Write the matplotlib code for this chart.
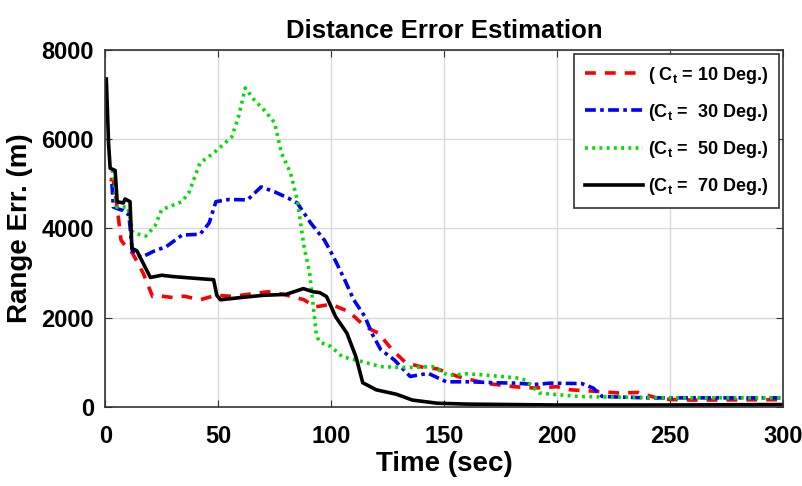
import matplotlib
matplotlib.use("Agg")
import matplotlib.pyplot as plt

# Distance error curves
t_10 = [2, 3.6, 5.3, 7, 9, 12, 16.8, 21, 25, 30, 35, 42, 49, 55, 60, 72, 79, 88, 93,
        100, 108, 115, 121, 127, 133, 141, 147, 156, 168, 181, 190, 200, 206, 216,
        227, 236, 246, 260, 300]
err_10 = [5100, 5090, 4480, 3740, 3600, 3450, 3000, 2470, 2480, 2450, 2480, 2400, 2500,
          2480, 2500, 2580, 2520, 2400, 2240, 2300, 2130, 1800, 1650, 1280, 990, 880,
          850, 680, 530, 450, 420, 450, 380, 350, 310, 320, 170, 150, 160]

t_30 = [3, 3.6, 5, 8, 10.5, 12, 16, 22, 27, 34, 42, 46, 49, 55, 63, 69, 75, 81, 85, 91,
        97, 101, 106, 110, 115, 118, 122, 128, 135, 143, 151, 162, 172, 182, 190, 197,
        211, 216, 220, 240, 300]
err_30 = [5000, 4480, 4450, 4400, 4300, 3500, 3350, 3500, 3590, 3850, 3870, 4120, 4600,
          4650, 4640, 4930, 4820, 4680, 4570, 4120, 3740, 3370, 2850, 2400, 2020, 1650,
          1280, 1050, 680, 750, 560, 560, 540, 530, 500, 530, 520, 420, 230, 200, 200]

t_50 = [3, 3.6, 5, 10, 12.3, 18, 22, 25, 34, 37, 42, 48, 56, 59, 62, 66, 71, 75, 78, 82,
        85, 88, 90.5, 92, 93.5, 95, 100, 105, 111, 122, 134, 145, 152, 160, 166, 182,
        186, 192, 196, 210, 250, 300]
err_50 = [5300, 5250, 4480, 4480, 3900, 3830, 4050, 4420, 4600, 4800, 5470, 5690, 6050,
          6500, 7150, 6880, 6620, 6370, 5690, 5250, 4640, 3600, 3000, 2300, 1600, 1450,
          1350, 1120, 1050, 900, 880, 900, 700, 740, 720, 650, 600, 310, 290, 230, 200, 200]

t_70 = [0.5, 1.5, 2.2, 4.4, 5.3, 8, 8.8, 11, 11.8, 14, 17, 20, 25, 30, 40, 48, 49.4, 51,
        60, 70, 80, 87.7, 92, 95, 98, 102, 107, 111, 114, 120, 129, 136, 147, 160, 200,
        250, 300]
err_70 = [7350, 5900, 5350, 5300, 4600, 4570, 4660, 4600, 3550, 3500, 3200, 2900, 2950,
          2920, 2880, 2850, 2500, 2400, 2450, 2500, 2520, 2650, 2580, 2560, 2470, 2020,
          1650, 1120, 540, 380, 280, 150, 80, 60, 40, 40, 50]

labels = [r"( C$_\mathrm{t}$ = 10 Deg.)", r"(C$_\mathrm{t}$ =  30 Deg.)",
          r"(C$_\mathrm{t}$ =  50 Deg.)", r"(C$_\mathrm{t}$ =  70 Deg.)"]

plt.rcParams["font.family"] = "Liberation Sans"
plt.rcParams["font.weight"] = "bold"
plt.rcParams["mathtext.fontset"] = "custom"
plt.rcParams["mathtext.rm"] = "Liberation Sans:bold"
plt.rcParams["mathtext.default"] = "rm"

fig = plt.figure(figsize=(8.03, 4.86), dpi=100)
ax = fig.add_axes([0.131, 0.163, 0.844, 0.734])

ax.plot(t_10, err_10, color="red", linestyle=(0, (3, 2.5)), linewidth=2.6, label=labels[0])
ax.plot(t_30, err_30, color="blue", linestyle=(0, (3, 1.2, 1, 1.2)), linewidth=2.6, label=labels[1])
ax.plot(t_50, err_50, color="#00e000", linestyle=(0, (0.8, 1.2)), linewidth=2.6, label=labels[2])
ax.plot(t_70, err_70, color="black", linestyle="-", linewidth=2.6, label=labels[3])

ax.set_xlim(0, 300)
ax.set_ylim(0, 8000)
ax.set_xticks(range(0, 301, 50))
ax.set_yticks(range(0, 8001, 2000))
ax.grid(True, color="#d9d9d9", linewidth=1.0)
ax.tick_params(direction="in", top=True, right=True, labelsize=17, length=5, color="#333333")
ax.tick_params(axis="x", pad=13)
ax.tick_params(axis="y", pad=8)
for lab in ax.get_xticklabels() + ax.get_yticklabels():
    lab.set_fontweight("bold")
for sp in ax.spines.values():
    sp.set_color("#333333")
    sp.set_linewidth(1.2)

ax.set_title("Distance Error Estimation", fontsize=18.5, fontweight="bold", pad=9)
ax.set_xlabel("Time (sec)", fontsize=20, fontweight="bold", labelpad=2)
ax.set_ylabel("Range Err. (m)", fontsize=20, fontweight="bold", labelpad=6)

leg = ax.legend(loc="upper right", fontsize=13, frameon=True, fancybox=False,
                edgecolor="#333333", framealpha=1, handlelength=3.2, handletextpad=0.3,
                borderpad=0.6, labelspacing=0.9, borderaxespad=0.2)
leg.get_frame().set_linewidth(1.2)

fig.savefig("out.png", dpi=100)
